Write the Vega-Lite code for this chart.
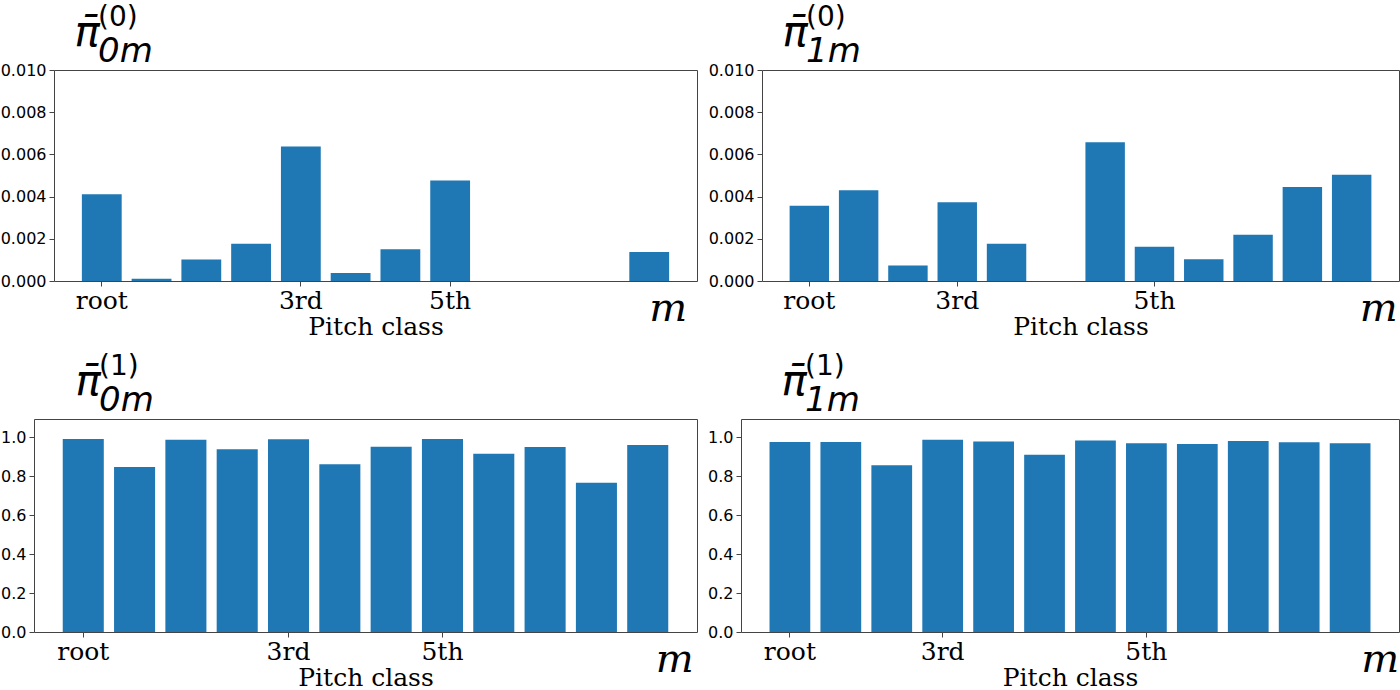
{
  "$schema": "https://vega.github.io/schema/vega-lite/v6.json",
  "background": "white",
  "padding": {"left": 0, "top": 3, "right": 0, "bottom": 0},
  "datasets": {
    "pi0_0": [
      {"m": 0, "p": 0.00411}, {"m": 1, "p": 0.00011}, {"m": 2, "p": 0.00102}, {"m": 3, "p": 0.00176},
      {"m": 4, "p": 0.00638}, {"m": 5, "p": 0.00038}, {"m": 6, "p": 0.00151}, {"m": 7, "p": 0.00476},
      {"m": 8, "p": 0}, {"m": 9, "p": 0}, {"m": 10, "p": 0}, {"m": 11, "p": 0.00138}
    ],
    "pi0_1": [
      {"m": 0, "p": 0.00357}, {"m": 1, "p": 0.0043}, {"m": 2, "p": 0.00073}, {"m": 3, "p": 0.00373},
      {"m": 4, "p": 0.00176}, {"m": 5, "p": 0}, {"m": 6, "p": 0.00657}, {"m": 7, "p": 0.00162},
      {"m": 8, "p": 0.00103}, {"m": 9, "p": 0.00219}, {"m": 10, "p": 0.00446}, {"m": 11, "p": 0.00503}
    ],
    "pi1_0": [
      {"m": 0, "p": 0.991}, {"m": 1, "p": 0.847}, {"m": 2, "p": 0.988}, {"m": 3, "p": 0.939},
      {"m": 4, "p": 0.99}, {"m": 5, "p": 0.861}, {"m": 6, "p": 0.951}, {"m": 7, "p": 0.991},
      {"m": 8, "p": 0.915}, {"m": 9, "p": 0.95}, {"m": 10, "p": 0.767}, {"m": 11, "p": 0.96}
    ],
    "pi1_1": [
      {"m": 0, "p": 0.976}, {"m": 1, "p": 0.976}, {"m": 2, "p": 0.856}, {"m": 3, "p": 0.988},
      {"m": 4, "p": 0.979}, {"m": 5, "p": 0.911}, {"m": 6, "p": 0.984}, {"m": 7, "p": 0.97},
      {"m": 8, "p": 0.965}, {"m": 9, "p": 0.981}, {"m": 10, "p": 0.974}, {"m": 11, "p": 0.97}
    ]
  },
  "columns": 2,
  "align": "none",
  "spacing": {"row": 12, "column": 9},
  "concat": [
    {
      "width": 663, "height": 211,
      "view": {"stroke": null},
      "data": {"name": "pi0_0"},
      "title": {"text": "(0)", "subtitle": "0m", "dx": 64},
      "layer": [
        {
          "mark": {"type": "bar", "color": "#1f77b4"},
          "encoding": {
            "x": {
              "field": "m", "type": "ordinal",
              "scale": {"paddingInner": 0.2, "paddingOuter": 0.56, "range": [20, 663]},
              "axis": {
                "title": "Pitch class", "domain": true, "domainColor": "#444",
                "labelExpr": "datum.value == 0 ? 'root' : datum.value == 4 ? '3rd' : datum.value == 7 ? '5th' : datum.value == 11 ? 'm' : ''",
                "tickOpacity": {"condition": {"test": "indexof([0, 4, 7], datum.value) >= 0", "value": 1}, "value": 0},
                "labelFontSize": {"condition": {"test": "datum.value == 11", "value": 40}, "value": 25},
                "labelFontStyle": {"condition": {"test": "datum.value == 11", "value": "italic"}, "value": "normal"},
                "labelOffset": {"condition": {"test": "datum.value == 11", "value": 19}, "value": 0}
              }
            },
            "y": {
              "field": "p", "type": "quantitative",
              "scale": {"domain": [0, 0.01], "nice": false},
              "axis": {"title": "π̄", "offset": -20, "domain": true, "domainColor": "#444", "values": [0, 0.002, 0.004, 0.006, 0.008, 0.01], "format": ".3f"}
            }
          }
        },
        {
          "mark": {"type": "bar", "opacity": 0},
          "encoding": {
            "x": {
              "field": "m", "type": "ordinal",
              "scale": {"paddingInner": 0.2, "paddingOuter": 0.56, "range": [20, 663]},
              "axis": {"orient": "top", "title": null, "labels": false, "ticks": false, "domain": true, "domainColor": "#444"}
            },
            "y": {
              "field": "p", "type": "quantitative",
              "scale": {"domain": [0, 0.01], "nice": false},
              "axis": {"orient": "right", "title": null, "labels": false, "ticks": false, "domain": true, "domainColor": "#444"}
            }
          }
        }
      ],
      "resolve": {"axis": {"x": "independent", "y": "independent"}}
    },
    {
      "width": 637, "height": 211,
      "data": {"name": "pi0_1"},
      "title": {"text": "(0)", "subtitle": "1m"},
      "mark": {"type": "bar", "color": "#1f77b4"},
      "encoding": {
        "x": {
          "field": "m", "type": "ordinal",
          "scale": {"paddingInner": 0.2, "paddingOuter": 0.56},
          "axis": {
            "title": "Pitch class",
            "labelExpr": "datum.value == 0 ? 'root' : datum.value == 3 ? '3rd' : datum.value == 7 ? '5th' : datum.value == 11 ? 'm' : ''",
            "tickOpacity": {"condition": {"test": "indexof([0, 3, 7], datum.value) >= 0", "value": 1}, "value": 0},
            "labelFontSize": {"condition": {"test": "datum.value == 11", "value": 40}, "value": 25},
            "labelFontStyle": {"condition": {"test": "datum.value == 11", "value": "italic"}, "value": "normal"},
            "labelOffset": {"condition": {"test": "datum.value == 11", "value": 27}, "value": 0}
          }
        },
        "y": {
          "field": "p", "type": "quantitative",
          "scale": {"domain": [0, 0.01], "nice": false},
          "axis": {"title": "π̄", "values": [0, 0.002, 0.004, 0.006, 0.008, 0.01], "format": ".3f"}
        }
      }
    },
    {
      "width": 663, "height": 213,
      "data": {"name": "pi1_0"},
      "title": {"text": "(1)", "subtitle": "0m", "dx": 65},
      "mark": {"type": "bar", "color": "#1f77b4"},
      "encoding": {
        "x": {
          "field": "m", "type": "ordinal",
          "scale": {"paddingInner": 0.2, "paddingOuter": 0.56},
          "axis": {
            "title": "Pitch class",
            "labelExpr": "datum.value == 0 ? 'root' : datum.value == 4 ? '3rd' : datum.value == 7 ? '5th' : datum.value == 11 ? 'm' : ''",
            "tickOpacity": {"condition": {"test": "indexof([0, 4, 7], datum.value) >= 0", "value": 1}, "value": 0},
            "labelFontSize": {"condition": {"test": "datum.value == 11", "value": 40}, "value": 25},
            "labelFontStyle": {"condition": {"test": "datum.value == 11", "value": "italic"}, "value": "normal"},
            "labelOffset": {"condition": {"test": "datum.value == 11", "value": 27}, "value": 0}
          }
        },
        "y": {
          "field": "p", "type": "quantitative",
          "scale": {"domain": [0, 1.094], "nice": false},
          "axis": {"title": "π̄", "titleX": 41, "values": [0, 0.2, 0.4, 0.6, 0.8, 1.0], "format": ".1f"}
        }
      }
    },
    {
      "width": 658, "height": 213,
      "data": {"name": "pi1_1"},
      "title": {"text": "(1)", "subtitle": "1m", "dx": 64},
      "mark": {"type": "bar", "color": "#1f77b4"},
      "encoding": {
        "x": {
          "field": "m", "type": "ordinal",
          "scale": {"paddingInner": 0.2, "paddingOuter": 0.56},
          "axis": {
            "title": "Pitch class",
            "labelExpr": "datum.value == 0 ? 'root' : datum.value == 3 ? '3rd' : datum.value == 7 ? '5th' : datum.value == 11 ? 'm' : ''",
            "tickOpacity": {"condition": {"test": "indexof([0, 3, 7], datum.value) >= 0", "value": 1}, "value": 0},
            "labelFontSize": {"condition": {"test": "datum.value == 11", "value": 40}, "value": 25},
            "labelFontStyle": {"condition": {"test": "datum.value == 11", "value": "italic"}, "value": "normal"},
            "labelOffset": {"condition": {"test": "datum.value == 11", "value": 30}, "value": 0}
          }
        },
        "y": {
          "field": "p", "type": "quantitative",
          "scale": {"domain": [0, 1.094], "nice": false},
          "axis": {"title": "π̄", "titleX": 40, "values": [0, 0.2, 0.4, 0.6, 0.8, 1.0], "format": ".1f"}
        }
      }
    }
  ],
  "config": {
    "view": {"stroke": "#444", "strokeWidth": 1},
    "axis": {
      "domain": false, "grid": false, "tickColor": "#444", "tickSize": 5,
      "labelColor": "#000", "titleColor": "#000", "titleFontWeight": "normal"
    },
    "axisX": {
      "labelAngle": 0, "labelFont": "DejaVu Serif", "labelOverlap": false, "labelPadding": 2,
      "titleFont": "DejaVu Serif", "titleFontSize": 25, "titleBaseline": "alphabetic", "titleY": 53
    },
    "axisY": {
      "labelFont": "DejaVu Sans", "labelFontSize": 16, "labelPadding": 3,
      "titleAngle": 0, "titleX": 20, "titleY": -25, "titleAlign": "left", "titleBaseline": "alphabetic",
      "titleFont": "DejaVu Sans", "titleFontSize": 42, "titleFontStyle": "italic"
    },
    "title": {
      "anchor": "start", "frame": "group", "dx": 44, "offset": -58,
      "font": "DejaVu Sans", "fontSize": 28, "fontWeight": "normal", "color": "#000",
      "subtitleFont": "DejaVu Sans", "subtitleFontSize": 34, "subtitleFontStyle": "italic",
      "subtitleColor": "#000", "subtitlePadding": 0
    }
  }
}
